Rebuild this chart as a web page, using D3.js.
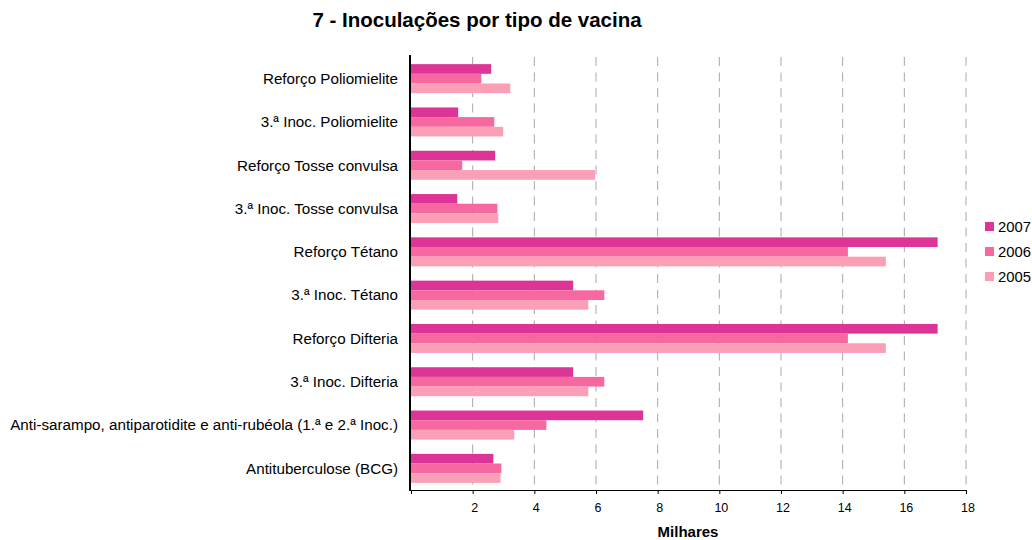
<!DOCTYPE html>
<html>
<head>
<meta charset="utf-8">
<script src="https://cdn.jsdelivr.net/npm/d3@7"></script>
<style>
  body { margin: 0; background: #fff; }
  svg { display: block; font-family: "Liberation Sans", Arial, sans-serif; }
</style>
</head>
<body>
<svg id="chart" width="1032" height="540"></svg>
<script>
// categories top to bottom
var categories = [
  "Reforço Poliomielite",
  "3.ª Inoc. Poliomielite",
  "Reforço Tosse convulsa",
  "3.ª Inoc. Tosse convulsa",
  "Reforço Tétano",
  "3.ª Inoc. Tétano",
  "Reforço Difteria",
  "3.ª Inoc. Difteria",
  "Anti-sarampo, antiparotidite e anti-rubéola (1.ª e 2.ª Inoc.)",
  "Antituberculose (BCG)"
];

var years = ["2007", "2006", "2005"];

// values in thousands (Milhares)
var v2007 = [2.60, 1.53, 2.73, 1.50, 17.08, 5.26, 17.08, 5.26, 7.53, 2.67];
var v2006 = [2.28, 2.70, 1.66, 2.80, 14.17, 6.27, 14.17, 6.27, 4.39, 2.93];
var v2005 = [3.22, 2.99, 5.97, 2.83, 15.40, 5.75, 15.40, 5.75, 3.35, 2.90];

var xTicks = [2, 4, 6, 8, 10, 12, 14, 16, 18];
var colors = ["#dd3497", "#f768a1", "#fa9fb5"];

var series = [v2007, v2006, v2005];

var svg = d3.select("#chart");
var margin = { left: 411, right: 966, top: 57, bottom: 490 };

var x = d3.scaleLinear().domain([0, 18]).range([margin.left, margin.right]);
var y = d3.scaleBand().domain(categories).range([margin.top, margin.bottom])
  .paddingInner(0.33).paddingOuter(0.165);
var ySub = d3.scaleBand().domain(years).range([0, y.bandwidth()]);
var color = d3.scaleOrdinal().domain(years).range(colors);

// title
svg.append("text")
  .attr("x", 477).attr("y", 27)
  .attr("text-anchor", "middle")
  .style("font-size", "20.5px").style("font-weight", "bold")
  .text("7 - Inoculações por tipo de vacina");

// dashed gridlines
svg.append("g").selectAll("line").data(xTicks).enter().append("line")
  .attr("x1", function(d) { return x(d); })
  .attr("x2", function(d) { return x(d); })
  .attr("y1", margin.top).attr("y2", margin.bottom)
  .style("stroke", "#a8a8a8").style("stroke-width", 1)
  .style("stroke-dasharray", "9,6.5");

// bars
var groups = svg.append("g").selectAll("g").data(categories).enter().append("g")
  .attr("transform", function(d) { return "translate(0," + y(d) + ")"; });

groups.selectAll("rect")
  .data(function(d, i) { return years.map(function(yr, j) { return { year: yr, value: series[j][i] }; }); })
  .enter().append("rect")
  .attr("x", x(0))
  .attr("y", function(d) { return ySub(d.year); })
  .attr("width", function(d) { return x(d.value) - x(0); })
  .attr("height", ySub.bandwidth())
  .style("fill", function(d) { return color(d.year); });

// x axis
var xAxis = d3.axisBottom(x).tickValues([0].concat(xTicks)).tickSize(4).tickPadding(9)
  .tickFormat(function(d) { return d === 0 ? "" : d; });
var gx = svg.append("g").attr("transform", "translate(0," + margin.bottom + ")").call(xAxis);
gx.select(".domain").attr("d", "M" + (x(0) - 1) + ",0.5H" + x(18)).style("stroke", "#000");
gx.selectAll(".tick line").style("stroke", "#000");
gx.selectAll(".tick text").style("font-size", "12.5px").style("font-family", "Liberation Sans, Arial, sans-serif").attr("dx", 1.5);

// y axis line and labels
svg.append("line")
  .attr("x1", x(0) - 1).attr("x2", x(0) - 1)
  .attr("y1", 55).attr("y2", margin.bottom + 1)
  .style("stroke", "#000").style("stroke-width", 2);

svg.append("g").selectAll("text").data(categories).enter().append("text")
  .attr("x", 398)
  .attr("y", function(d) { return y(d) + y.bandwidth() / 2; })
  .attr("dy", "0.35em")
  .attr("text-anchor", "end")
  .style("font-size", "15.2px")
  .text(function(d) { return d; });

// axis title
svg.append("text")
  .attr("x", 688).attr("y", 537)
  .attr("text-anchor", "middle")
  .style("font-size", "15px").style("font-weight", "bold")
  .text("Milhares");

// legend
var legend = svg.append("g").selectAll("g").data(years).enter().append("g")
  .attr("transform", function(d, i) { return "translate(985," + (222 + i * 25) + ")"; });
legend.append("rect").attr("width", 9).attr("height", 9)
  .style("fill", function(d) { return color(d); });
legend.append("text").attr("x", 13).attr("y", 4.5).attr("dy", "0.35em")
  .style("font-size", "14.8px")
  .text(function(d) { return d; });
</script>
</body>
</html>
